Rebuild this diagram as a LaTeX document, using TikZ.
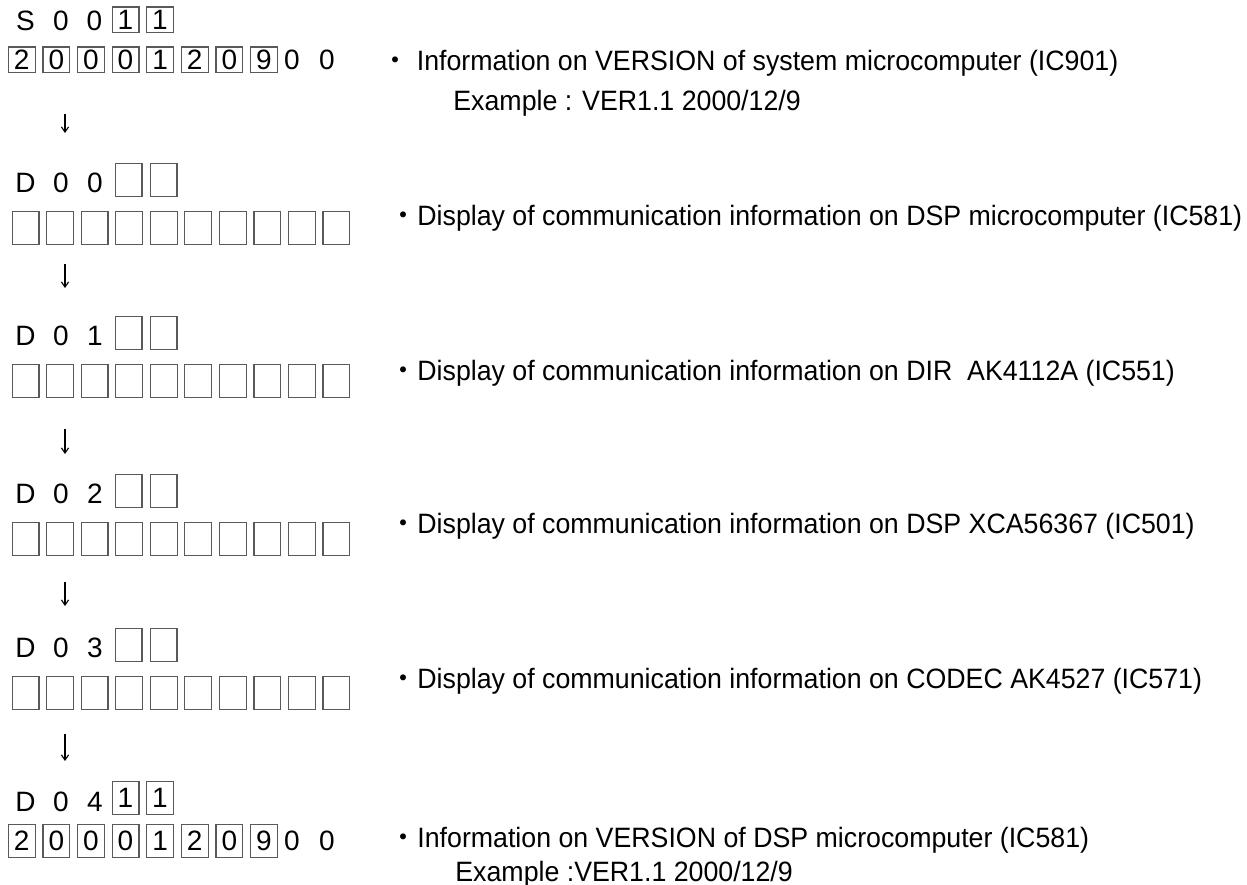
\documentclass[tikz,border=0pt]{standalone}
\usepackage{fontspec}
\setmainfont{Liberation Sans}
\newfontfamily\infofont{Liberation Sans}[FakeStretch=0.955]
\newfontfamily\cjk{Noto Sans CJK JP}
\usetikzlibrary{arrows.meta,positioning,calc}

\tikzset{
  dig/.style={inner sep=0pt},
  lowbox/.style={draw=black!65, line width=0.6pt, inner sep=0pt, minimum width=13.4pt, minimum height=12.6pt},
  tallbox/.style={draw=black!65, line width=0.6pt, inner sep=0pt, minimum width=13.4pt, minimum height=16.6pt},
  info/.style={anchor=base west, inner sep=0pt, font=\fontsize{14}{16.8}\infofont},
}

\begin{document}
\begin{tikzpicture}[x=0.5pt, y=-0.5pt, font=\fontsize{14}{16.8}\selectfont,
    >={Straight Barb[length=2.6pt,width=3.6pt]}]

  \useasboundingbox (0,0) rectangle (1247,884);

  % system microcomputer version
  \node[dig] (s-a) at (25.5,21) {S};
  \node[dig] (s-b) at (61,21) {0};
  \node[dig] (s-c) at (94.5,21) {0};
  \node[lowbox] (s-x) at (125.5,19.5) {1};
  \node[lowbox] (s-y) at (160,19.5) {1};
  \foreach \i/\d in {0/2,1/0,2/0,3/0,4/1,5/2,6/0,7/9}{
    \node[lowbox] (sv\i) at ({21.7+34.6*\i},59.5) {\d};
  }
  \node[dig] (sv8) at (292,60) {0};
  \node[dig] (sv9) at (327,60) {0};

  % communication displays D00 .. D03
  \foreach \n/\y in {0/180,1/333,2/491,3/645}{
    \node[dig] (d\n-a) at (25.5,\y+3) {D};
    \node[dig] (d\n-b) at (61,\y+3) {0};
    \node[dig] (d\n-c) at (95,\y+3) {\n};
    \node[tallbox] (d\n-x) at (128.5,\y) {};
    \node[tallbox] (d\n-y) at (163.5,\y) {};
    \foreach \i in {0,...,9}{
      \node[tallbox] (d\n-v\i) at ({25.5+34.55*\i},\y+48) {};
    }
  }

  % DSP microcomputer version
  \node[dig] (d4-a) at (25.5,802) {D};
  \node[dig] (d4-b) at (61,802) {0};
  \node[dig] (d4-c) at (95,802) {4};
  \node[tallbox] (d4-x) at (125.5,798) {1};
  \node[tallbox] (d4-y) at (160,798) {1};
  \foreach \i/\d in {0/2,1/0,2/0,3/0,4/1,5/2,6/0,7/9}{
    \node[tallbox] (d4-v\i) at ({21.7+34.6*\i},841) {\d};
  }
  \node[dig] (d4-v8) at (292,841) {0};
  \node[dig] (d4-v9) at (327,841) {0};

  % arrows between the steps
  \foreach \k/\t/\h in {0/114/133,1/264/288,2/429/454,3/582/606,4/734/761}{
    \coordinate (up\k) at (65,\t);
    \coordinate (dn\k) at (65,\h);
    \draw[->, line width=0.55pt] (up\k) -- (dn\k);
  }

  % explanations
  \node[info] (t-s1) at (381,70) {{\cjk ・} Information on VERSION of system microcomputer (IC901)};
  \node[info] (t-s2) at (453,110) {Example : VER1.1 2000/12/9};
  \node[info] (t-d0) at (389,225) {{\cjk ・}Display of communication information on DSP microcomputer (IC581)};
  \node[info] (t-d1) at (389,380) {{\cjk ・}Display of communication information on DIR\ \ AK4112A (IC551)};
  \node[info] (t-d2) at (389,533) {{\cjk ・}Display of communication information on DSP XCA56367 (IC501)};
  \node[info] (t-d3) at (389,688) {{\cjk ・}Display of communication information on CODEC AK4527 (IC571)};
  \node[info] (t-d4) at (389,847) {{\cjk ・}Information on VERSION of DSP microcomputer (IC581)};
  \node[info] (t-d5) at (455,881) {Example :VER1.1 2000/12/9};

\end{tikzpicture}
\end{document}
